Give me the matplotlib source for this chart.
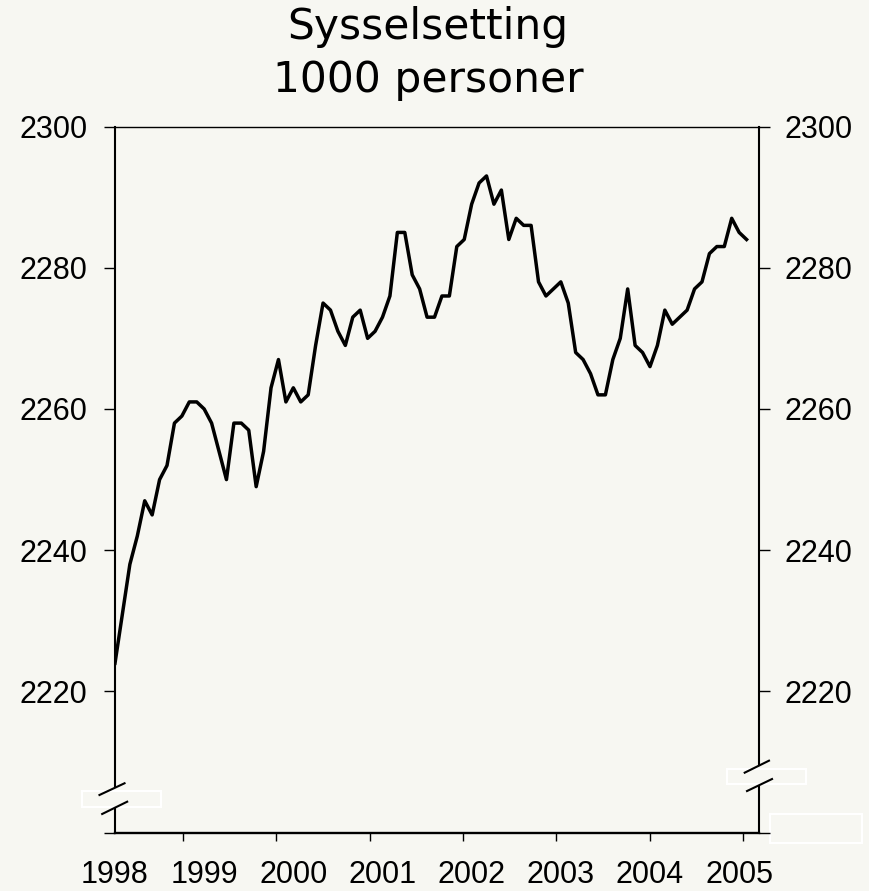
import numpy as np
import matplotlib
matplotlib.use("Agg")
import matplotlib.pyplot as plt
from matplotlib.patches import Rectangle

# Sysselsetting, 1000 personer, monthly values from Jan 1998 to Feb 2005
employment = [2224, 2231, 2238, 2242, 2247, 2245, 2250, 2252, 2258, 2259,
              2261, 2261, 2260, 2258, 2254, 2250, 2258, 2258, 2257, 2249,
              2254, 2263, 2267, 2261, 2263, 2261, 2262, 2269, 2275, 2274,
              2271, 2269, 2273, 2274, 2270, 2271, 2273, 2276, 2285, 2285,
              2279, 2277, 2273, 2273, 2276, 2276, 2283, 2284, 2289, 2292,
              2293, 2289, 2291, 2284, 2287, 2286, 2286, 2278, 2276, 2277,
              2278, 2275, 2268, 2267, 2265, 2262, 2262, 2267, 2270, 2277,
              2269, 2268, 2266, 2269, 2274, 2272, 2273, 2274, 2277, 2278,
              2282, 2283, 2283, 2287, 2285, 2284]
year_labels = ['1998', '1999', '2000', '2001', '2002', '2003', '2004', '2005']
y_ticks = [2200, 2220, 2240, 2260, 2280, 2300]
y_labels = ['', '2220', '2240', '2260', '2280', '2300']

bg = '#F7F7F2'
tick_font = 'Liberation Sans'

months = np.arange(len(employment))
label_pos = np.arange(len(year_labels)) * 12
tick_pos = 9.15 + 12.56 * np.arange(7)

fig = plt.figure(figsize=(8.7, 8.91), dpi=100, facecolor=bg)
ax = fig.add_axes([115 / 870, 58.3 / 891, 644.2 / 870, 706.2 / 891])
ax.set_facecolor(bg)

ax.plot(months, employment, color='black', lw=2.5, zorder=3)

ax.set_xlim(0, 86.7)
ax.set_ylim(2200, 2300)

# x axis: marks at one spacing, year labels at another
ax.set_xticks(tick_pos)
ax.set_xticklabels([])
ax.set_xticks(label_pos, minor=True)
ax.set_xticklabels(year_labels, minor=True, fontsize=22, family=tick_font)
ax.tick_params(axis='x', which='major', direction='out', length=6, width=1)
ax.tick_params(axis='x', which='minor', length=0, pad=20)

ax.set_yticks(y_ticks)
ax.set_yticklabels(y_labels, fontsize=22, family=tick_font)
ax.tick_params(axis='y', direction='out', length=8, width=1, pad=12)

ax2 = ax.twinx()
ax2.set_ylim(2200, 2300)
ax2.set_yticks(y_ticks)
ax2.set_yticklabels(y_labels, fontsize=22, family=tick_font)
ax2.tick_params(axis='y', direction='out', length=8, width=1, pad=10)
for s in ax2.spines.values():
    s.set_visible(False)

ax.spines['left'].set_visible(False)
ax.spines['right'].set_visible(False)
ax.spines['top'].set_linewidth(1)
ax.spines['bottom'].set_linewidth(1.7)

# side axes with a break near the bottom
deco = dict(transform=ax.transAxes, color='black', clip_on=False, zorder=5)
ax.plot([0, 0], [0, 0.0346], lw=1.5, **deco)
ax.plot([0, 0], [0.0651, 1], lw=1.5, **deco)
ax.plot([1, 1], [0, 0.0651], lw=1.5, **deco)
ax.plot([1, 1], [0.0959, 1], lw=1.5, **deco)

for r in [(-0.052, 0.0364, 0.1227, 0.0226),
          (0.9495, 0.0690, 0.1227, 0.0212),
          (1.0163, -0.0145, 0.1429, 0.0410)]:
    ax.add_patch(Rectangle(r[:2], r[2], r[3], transform=ax.transAxes,
                           fill=False, edgecolor='white', lw=1.5,
                           clip_on=False, zorder=4))

ax.plot([-0.0241, 0.0148], [0.0534, 0.0700], lw=1.5, **deco)
ax.plot([-0.0199, 0.0189], [0.0265, 0.0439], lw=1.5, **deco)
ax.plot([0.9775, 1.0152], [0.0850, 0.1020], lw=1.5, **deco)
ax.plot([0.9811, 1.0199], [0.0590, 0.0760], lw=1.5, **deco)

fig.text(0.492, 1 - 39.3 / 891, 'Sysselsetting', ha='center', va='baseline',
         fontsize=30.5, family='DejaVu Sans')
fig.text(0.492, 1 - 91.7 / 891, '1000 personer', ha='center', va='baseline',
         fontsize=30.5, family='DejaVu Sans')

fig.savefig('out.png', dpi=100, facecolor=bg)
